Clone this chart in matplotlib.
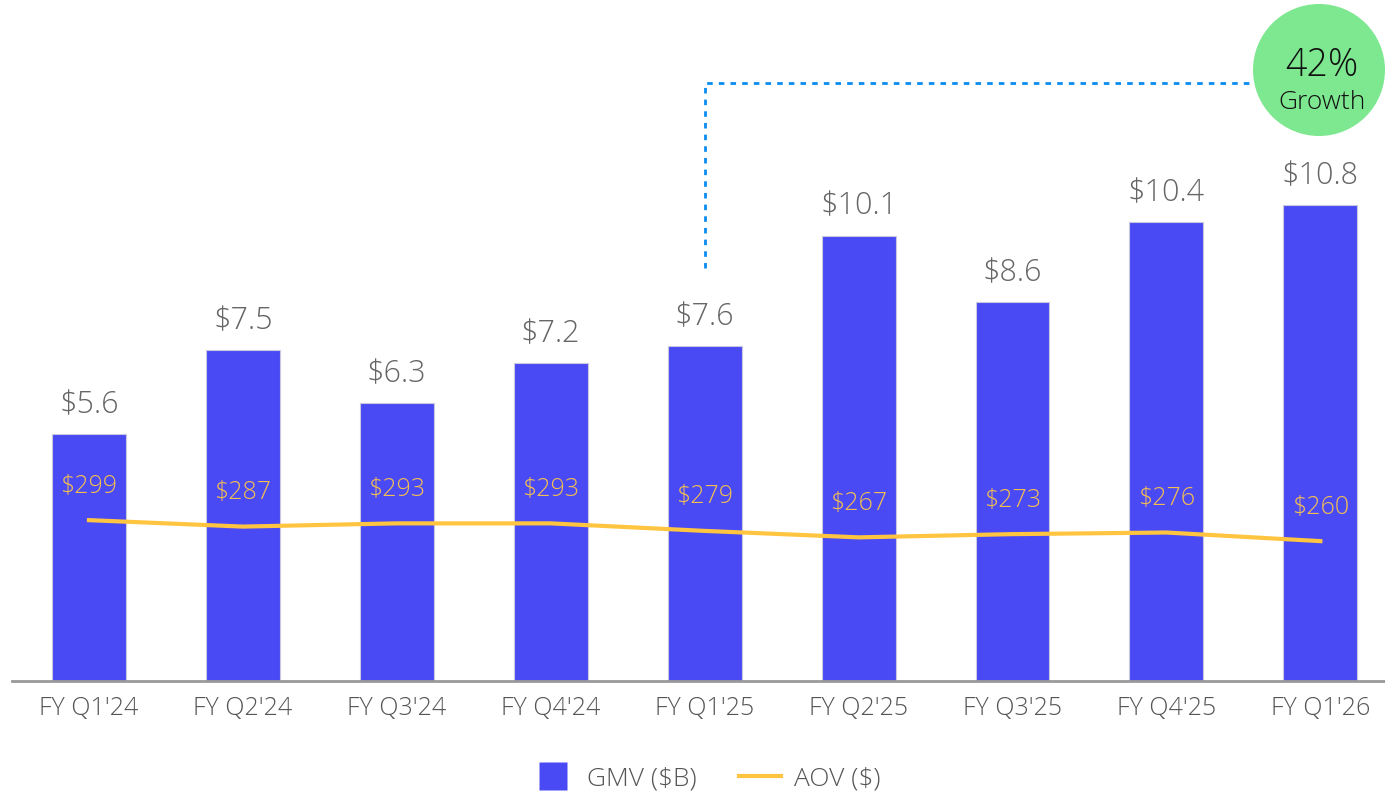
import matplotlib
matplotlib.use("Agg")
import matplotlib.pyplot as plt
from matplotlib.patches import Ellipse
from matplotlib.lines import Line2D

plt.rcParams['font.family'] = ['Open Sans', 'DejaVu Sans']
plt.rcParams['font.weight'] = 'light'

quarters = ["FY Q1'24", "FY Q2'24", "FY Q3'24", "FY Q4'24", "FY Q1'25",
            "FY Q2'25", "FY Q3'25", "FY Q4'25", "FY Q1'26"]
gmv = [5.6, 7.5, 6.3, 7.2, 7.6, 10.1, 8.6, 10.4, 10.8]
aov = [299, 287, 293, 293, 279, 267, 273, 276, 260]
gmv_labels = ["$5.6", "$7.5", "$6.3", "$7.2", "$7.6", "$10.1", "$8.6", "$10.4", "$10.8"]
aov_labels = ["$299", "$287", "$293", "$293", "$279", "$267", "$273", "$276", "$260"]

W, H = 1385, 796
fig = plt.figure(figsize=(W / 100, H / 100), dpi=100)
ax = fig.add_axes([12 / W, 1 - 681 / H, 1 - 12 / W, 681 / H])
x = list(range(len(quarters)))

bar_color = "#4A4AF4"
line_color = "#FFC540"
ax.bar(x, gmv, width=0.48, color=bar_color, edgecolor="#C8C8E0", linewidth=0.8, zorder=2)
ax.set_xlim(-0.5, 8.42)
ax.set_ylim(0, 681 / 44.1)

for xi, v, lab in zip(x, gmv, gmv_labels):
    ax.annotate(lab, (xi, v), xytext=(0, 29), textcoords="offset pixels",
                ha="center", va="center", fontsize=22, color="#666666")

ax2 = ax.twinx()
ax2.set_ylim(0, 681 / 0.538)
ax2.plot(x, aov, color=line_color, linewidth=3, zorder=3)
for xi, v, lab in zip(x, aov, aov_labels):
    ax2.annotate(lab, (xi, v), xytext=(0, 34), textcoords="offset pixels",
                 ha="center", va="center", fontsize=18, color="#F2BE52")

for a in (ax, ax2):
    for s in a.spines.values():
        s.set_visible(False)
    a.tick_params(left=False, right=False, labelleft=False, labelright=False)
ax.spines['bottom'].set_visible(True)
ax.spines['bottom'].set_color("#999999")
ax.spines['bottom'].set_linewidth(2)
ax.set_xticks(x)
ax.set_xticklabels(quarters, fontsize=18, color="#555555")
ax.tick_params(axis='x', length=0, pad=11)

# connector
y_low = (681 - 268) / 44.1
y_high = (681 - 83) / 44.1
x_end = (1255 - 12) / 154 - 0.5
ax.plot([4, 4, x_end], [y_low, y_high, y_high], color="#0A8CF0", linewidth=2,
        linestyle=(0, (2, 2.2)), clip_on=False, zorder=4)

# growth circle
circ = Ellipse((1319 / W, 1 - 70 / H), 132 / W, 132 / H, transform=fig.transFigure,
               facecolor="#7DE88F", edgecolor="none", zorder=5)
fig.patches.append(circ)
fig.text(1322 / W, 1 - 76 / H, "42%", ha="center", va="baseline", fontsize=27,
         color="#111111", zorder=10)
fig.text(1322 / W, 1 - 109 / H, "Growth", ha="center", va="baseline", fontsize=19,
         color="#111111", zorder=10)

handles = [Line2D([0], [0], linestyle="none", marker="s", markersize=20,
                  markerfacecolor=bar_color, markeredgecolor="none"),
           Line2D([0], [0], color=line_color, linewidth=3)]
fig.legend(handles, ["GMV ($B)", "AOV ($)"], loc="center", bbox_to_anchor=(706 / W, 1 - 779 / H),
           ncol=2, frameon=False, fontsize=19, labelcolor="#555555",
           handlelength=1.6, columnspacing=1.6, handletextpad=0.5)

fig.savefig("out.png", dpi=100)
